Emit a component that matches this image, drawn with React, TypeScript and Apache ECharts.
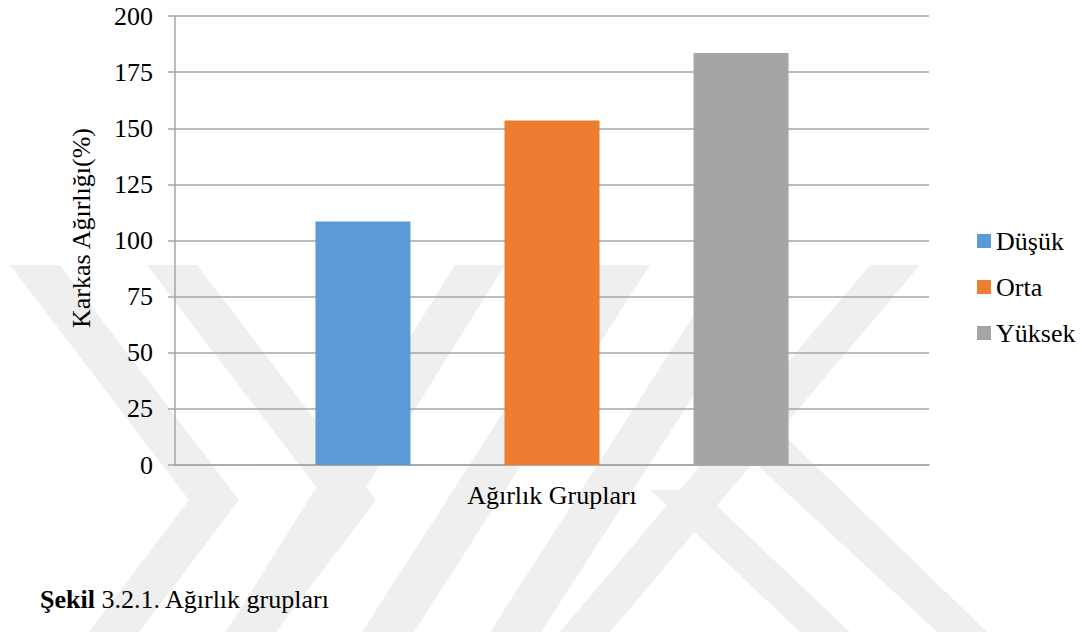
import React, { useEffect, useRef } from "react";
import * as echarts from "echarts";

const categories = [""];
const seriesNames = ["Düşük", "Orta", "Yüksek"];
const seriesValues = [108.5, 153.5, 183.5];
const seriesColors = ["#5B9BD5", "#ED7D31", "#A5A5A5"];
const yMin = 0;
const yMax = 200;
const yInterval = 25;
const xAxisName = "Ağırlık Grupları";
const yAxisName = "Karkas Ağırlığı(%)";
const captionBold = "Şekil";
const captionText = " 3.2.1. Ağırlık grupları";

const FONT = "Liberation Serif";
const WM = "#EFEFEF";

const watermark: number[][][] = [
  [[10, 265], [60, 265], [239, 500], [139, 632], [89, 632], [189, 500]],
  [[147, 265], [197, 265], [376, 500], [276, 632], [226, 632], [326, 500]],
  [[455, 265], [505, 265], [276, 632], [226, 632]],
  [[598, 265], [650, 265], [414, 632], [362, 632]],
  [[726, 265], [778, 265], [541, 632], [490, 632]],
  [[870, 265], [920, 265], [610, 632], [560, 632]],
  [[650, 490], [700, 490], [850, 632], [800, 632]],
  [[730, 440], [789, 440], [987, 632], [937, 632]],
];

export default function App() {
  const ref = useRef<HTMLDivElement>(null);
  useEffect(() => {
    if (!ref.current) return;
    const chart = echarts.init(ref.current, null, { renderer: "svg" });
    const graphics: any[] = watermark.map((pts) => ({
      type: "polygon",
      z: -10,
      silent: true,
      shape: { points: pts },
      style: { fill: WM },
    }));
    graphics.push({
      type: "text",
      x: 81,
      y: 228,
      rotation: Math.PI / 2,
      style: {
        text: yAxisName,
        fill: "#000",
        fontSize: 26,
        fontWeight: "normal",
        fontStyle: "normal",
        fontFamily: FONT,
        align: "center",
        verticalAlign: "middle",
        textAlign: "center",
        textVerticalAlign: "middle",
      },
    });
    graphics.push({
      type: "text",
      x: 40,
      y: 599,
      style: {
        text: `{b|${captionBold}}${captionText}`,
        fill: "#000",
        fontSize: 26,
        fontFamily: FONT,
        align: "left",
        verticalAlign: "middle",
        textAlign: "left",
        textVerticalAlign: "middle",
        rich: {
          b: { fontWeight: "bold", fontSize: 26, fontFamily: FONT, fill: "#000" },
        },
      },
    });
    chart.setOption({
      animation: false,
      backgroundColor: "#ffffff",
      textStyle: { fontFamily: FONT },
      graphic: { elements: graphics },
      grid: { left: 175, top: 16, right: 153, bottom: 174, containLabel: false },
      legend: {
        orient: "vertical",
        left: 972,
        top: 223,
        itemWidth: 14,
        itemHeight: 14,
        itemGap: 20,
        icon: "rect",
        data: seriesNames,
        textStyle: { fontSize: 26, fontFamily: FONT, fontWeight: "normal", color: "#000", lineHeight: 26 },
      },
      xAxis: {
        type: "category",
        data: categories,
        name: xAxisName,
        nameLocation: "middle",
        nameGap: 17,
        nameTextStyle: { fontSize: 26, fontFamily: FONT, color: "#000" },
        axisLine: { show: true, lineStyle: { color: "#A6A6A6", width: 1.5 } },
        axisTick: { show: false },
        axisLabel: { show: false },
      },
      yAxis: {
        type: "value",
        min: yMin,
        max: yMax,
        interval: yInterval,
        axisLine: { show: true, lineStyle: { color: "#A6A6A6", width: 1.5 } },
        axisTick: { show: true, length: 7, inside: false, lineStyle: { color: "#A6A6A6", width: 1.5 } },
        splitLine: { show: true, lineStyle: { color: "#A6A6A6", width: 1.5 } },
        axisLabel: { fontSize: 26, fontFamily: FONT, fontWeight: "normal", color: "#000", margin: 22 },
      },
      series: seriesNames.map((name, i) => ({
        name,
        type: "bar",
        barWidth: 95,
        barGap: "99%",
        itemStyle: { color: seriesColors[i] },
        data: [seriesValues[i]],
      })),
    });
    return () => chart.dispose();
  }, []);
  return (
    <div
      ref={ref}
      style={{ position: "fixed", left: 0, top: 0, width: 1082, height: 639, background: "#fff" }}
    />
  );
}
